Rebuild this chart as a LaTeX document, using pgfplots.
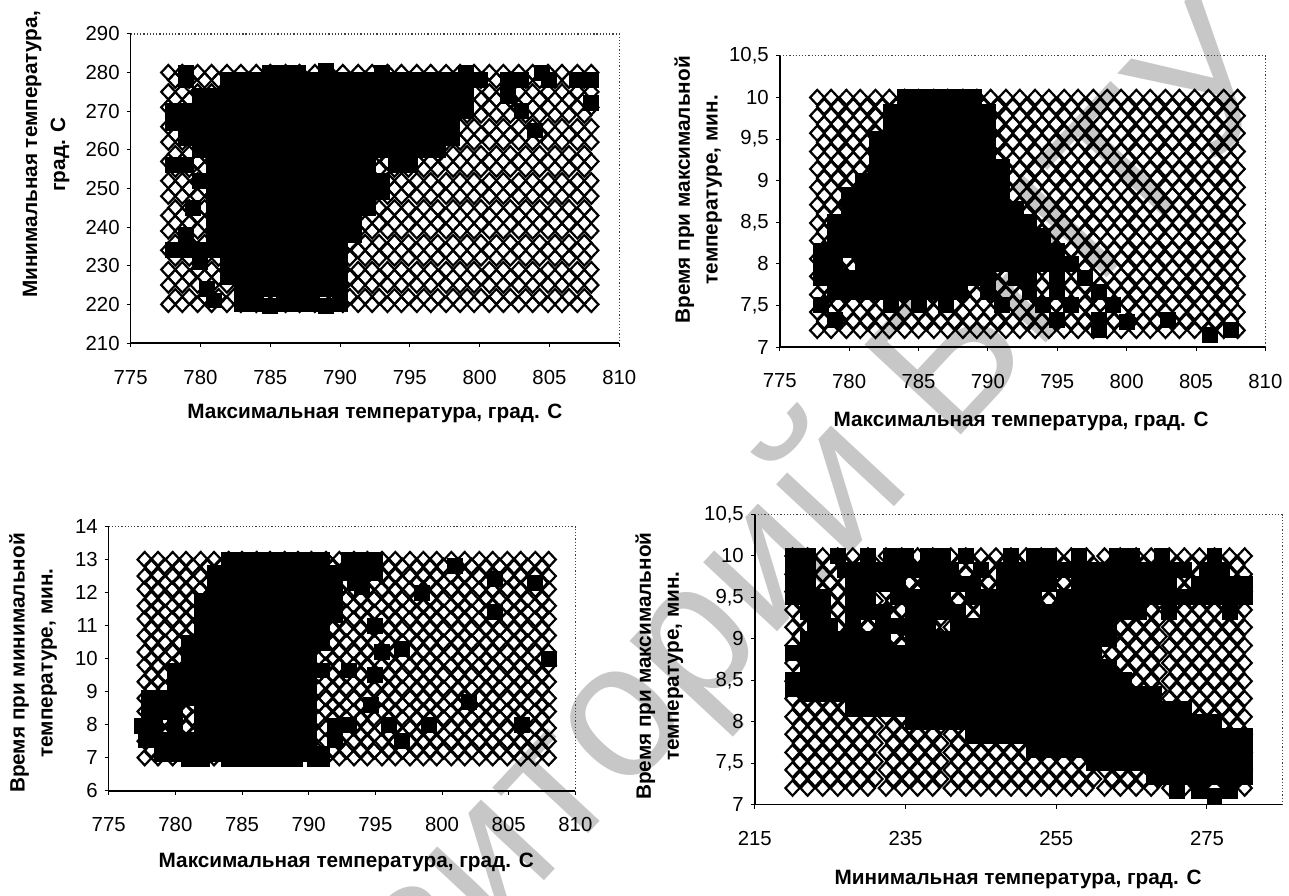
\documentclass[border=0pt]{standalone}
\usepackage{pgfplots}
\usepackage{pgfplotstable}
\usepackage{fontspec}
\setmainfont{Liberation Sans}
\pgfplotsset{compat=1.18}
\pgfplotsset{panel/.style={scale only axis,axis lines*=left,axis line style={-,black,line width=0.8pt},
 tick align=outside,major tick length=2pt,tick style={black,line width=0.5pt},
 tick label style={font=\fontsize{10.2}{12}\selectfont},
 /pgf/number format/.cd,use comma,assume math mode=true,1000 sep={},/pgfplots/.cd,
 xlabel style={font=\fontsize{10.4}{12}\selectfont\bfseries,anchor=center},
 ylabel style={font=\fontsize{10.4}{14}\selectfont\bfseries,align=center,anchor=center,rotate=0},
 xticklabel style={yshift=-8pt},
 clip=false},
 dia/.style={only marks,mark=diamond,mark size=3.8pt,mark options={xscale=1.25,draw=black,line width=1.1pt,fill=none}},
 sq/.style={only marks,mark=square*,mark size=3.75pt,mark options={draw=black,fill=black,line width=0pt}}}
\newcommand\frametop{\draw[densely dotted,black!75,line width=0.6pt] (rel axis cs:0,1)--(rel axis cs:1,1)--(rel axis cs:1,0);}
\pgfplotstableread{
tx tn ta ti tm
777.7 220 7.2 7 220
778.7 220 7.2 7 222
779.8 220 7.2 7 224
780.8 220 7.2 7 226
781.9 220 7.2 7 228
782.9 220 7.2 7 230
784 220 7.2 7 232.4
785 220 7.2 7 234.5
786.1 220 7.2 7 236.6
787.1 220 7.2 7 238.6
788.2 220 7.2 7 241
789.2 220 7.2 7 243
790.2 220 7.2 7 245
791.3 220 7.2 7 247
792.3 220 7.2 7 249
793.4 220 7.2 7 251
794.4 220 7.2 7 253
795.5 220 7.2 7 255
796.5 220 7.2 7 257
797.6 220 7.2 7 259
798.6 220 7.2 7 261.4
799.6 220 7.2 7 263.5
800.7 220 7.2 7 265.6
801.7 220 7.2 7 267.6
802.8 220 7.2 7 270
803.8 220 7.2 7 272
804.9 220 7.2 7 274
805.9 220 7.2 7 276
807 220 7.2 7 278
808 220 7.2 7 280
778.2 222 7.31 7.2 221
779.2 222 7.31 7.2 223
780.3 222 7.31 7.2 225
781.3 222 7.31 7.2 227
782.4 222 7.31 7.2 229
783.4 222 7.31 7.2 231
784.5 222 7.31 7.2 233.4
785.5 222 7.31 7.2 235.5
786.6 222 7.31 7.2 237.6
787.6 222 7.31 7.2 239.7
788.7 222 7.31 7.2 242
789.7 222 7.31 7.2 244
790.7 222 7.31 7.2 246
791.8 222 7.31 7.2 248
792.8 222 7.31 7.2 250
793.9 222 7.31 7.2 252
794.9 222 7.31 7.2 254
796 222 7.31 7.2 256
797 222 7.31 7.2 258
798.1 222 7.31 7.2 260
799.1 222 7.31 7.2 262.4
800.1 222 7.31 7.2 264.5
801.2 222 7.31 7.2 266.6
802.2 222 7.31 7.2 268.7
803.3 222 7.31 7.2 271
804.3 222 7.31 7.2 273
805.4 222 7.31 7.2 275
806.4 222 7.31 7.2 277
807.5 222 7.31 7.2 279
777.7 225 7.42 7.5 220
778.7 225 7.42 7.5 222
779.8 225 7.42 7.5 224
780.8 225 7.42 7.5 226
781.9 225 7.42 7.5 228
782.9 225 7.42 7.5 230
784 225 7.42 7.5 232.4
785 225 7.42 7.5 234.5
786.1 225 7.42 7.5 236.6
787.1 225 7.42 7.5 238.6
788.2 225 7.42 7.5 241
789.2 225 7.42 7.5 243
790.2 225 7.42 7.5 245
791.3 225 7.42 7.5 247
792.3 225 7.42 7.5 249
793.4 225 7.42 7.5 251
794.4 225 7.42 7.5 253
795.5 225 7.42 7.5 255
796.5 225 7.42 7.5 257
797.6 225 7.42 7.5 259
798.6 225 7.42 7.5 261.4
799.6 225 7.42 7.5 263.5
800.7 225 7.42 7.5 265.6
801.7 225 7.42 7.5 267.6
802.8 225 7.42 7.5 270
803.8 225 7.42 7.5 272
804.9 225 7.42 7.5 274
805.9 225 7.42 7.5 276
807 225 7.42 7.5 278
808 225 7.42 7.5 280
778.2 227 7.52 7.7 221
779.2 227 7.52 7.7 223
780.3 227 7.52 7.7 225
781.3 227 7.52 7.7 227
782.4 227 7.52 7.7 229
783.4 227 7.52 7.7 231
784.5 227 7.52 7.7 233.4
785.5 227 7.52 7.7 235.5
786.6 227 7.52 7.7 237.6
787.6 227 7.52 7.7 239.7
788.7 227 7.52 7.7 242
789.7 227 7.52 7.7 244
790.7 227 7.52 7.7 246
791.8 227 7.52 7.7 248
792.8 227 7.52 7.7 250
793.9 227 7.52 7.7 252
794.9 227 7.52 7.7 254
796 227 7.52 7.7 256
797 227 7.52 7.7 258
798.1 227 7.52 7.7 260
799.1 227 7.52 7.7 262.4
800.1 227 7.52 7.7 264.5
801.2 227 7.52 7.7 266.6
802.2 227 7.52 7.7 268.7
803.3 227 7.52 7.7 271
804.3 227 7.52 7.7 273
805.4 227 7.52 7.7 275
806.4 227 7.52 7.7 277
807.5 227 7.52 7.7 279
777.7 229 7.63 7.9 220
778.7 229 7.63 7.9 222
779.8 229 7.63 7.9 224
780.8 229 7.63 7.9 226
781.9 229 7.63 7.9 228
782.9 229 7.63 7.9 230
784 229 7.63 7.9 232.4
785 229 7.63 7.9 234.5
786.1 229 7.63 7.9 236.6
787.1 229 7.63 7.9 238.6
788.2 229 7.63 7.9 241
789.2 229 7.63 7.9 243
790.2 229 7.63 7.9 245
791.3 229 7.63 7.9 247
792.3 229 7.63 7.9 249
793.4 229 7.63 7.9 251
794.4 229 7.63 7.9 253
795.5 229 7.63 7.9 255
796.5 229 7.63 7.9 257
797.6 229 7.63 7.9 259
798.6 229 7.63 7.9 261.4
799.6 229 7.63 7.9 263.5
800.7 229 7.63 7.9 265.6
801.7 229 7.63 7.9 267.6
802.8 229 7.63 7.9 270
803.8 229 7.63 7.9 272
804.9 229 7.63 7.9 274
805.9 229 7.63 7.9 276
807 229 7.63 7.9 278
808 229 7.63 7.9 280
778.2 232 7.74 8.2 221
779.2 232 7.74 8.2 223
780.3 232 7.74 8.2 225
781.3 232 7.74 8.2 227
782.4 232 7.74 8.2 229
783.4 232 7.74 8.2 231
784.5 232 7.74 8.2 233.4
785.5 232 7.74 8.2 235.5
786.6 232 7.74 8.2 237.6
787.6 232 7.74 8.2 239.7
788.7 232 7.74 8.2 242
789.7 232 7.74 8.2 244
790.7 232 7.74 8.2 246
791.8 232 7.74 8.2 248
792.8 232 7.74 8.2 250
793.9 232 7.74 8.2 252
794.9 232 7.74 8.2 254
796 232 7.74 8.2 256
797 232 7.74 8.2 258
798.1 232 7.74 8.2 260
799.1 232 7.74 8.2 262.4
800.1 232 7.74 8.2 264.5
801.2 232 7.74 8.2 266.6
802.2 232 7.74 8.2 268.7
803.3 232 7.74 8.2 271
804.3 232 7.74 8.2 273
805.4 232 7.74 8.2 275
806.4 232 7.74 8.2 277
807.5 232 7.74 8.2 279
777.7 234 7.85 8.4 220
778.7 234 7.85 8.4 222
779.8 234 7.85 8.4 224
780.8 234 7.85 8.4 226
781.9 234 7.85 8.4 228
782.9 234 7.85 8.4 230
784 234 7.85 8.4 232.4
785 234 7.85 8.4 234.5
786.1 234 7.85 8.4 236.6
787.1 234 7.85 8.4 238.6
788.2 234 7.85 8.4 241
789.2 234 7.85 8.4 243
790.2 234 7.85 8.4 245
791.3 234 7.85 8.4 247
792.3 234 7.85 8.4 249
793.4 234 7.85 8.4 251
794.4 234 7.85 8.4 253
795.5 234 7.85 8.4 255
796.5 234 7.85 8.4 257
797.6 234 7.85 8.4 259
798.6 234 7.85 8.4 261.4
799.6 234 7.85 8.4 263.5
800.7 234 7.85 8.4 265.6
801.7 234 7.85 8.4 267.6
802.8 234 7.85 8.4 270
803.8 234 7.85 8.4 272
804.9 234 7.85 8.4 274
805.9 234 7.85 8.4 276
807 234 7.85 8.4 278
808 234 7.85 8.4 280
778.2 236 7.95 8.6 221
779.2 236 7.95 8.6 223
780.3 236 7.95 8.6 225
781.3 236 7.95 8.6 227
782.4 236 7.95 8.6 229
783.4 236 7.95 8.6 231
784.5 236 7.95 8.6 233.4
785.5 236 7.95 8.6 235.5
786.6 236 7.95 8.6 237.6
787.6 236 7.95 8.6 239.7
788.7 236 7.95 8.6 242
789.7 236 7.95 8.6 244
790.7 236 7.95 8.6 246
791.8 236 7.95 8.6 248
792.8 236 7.95 8.6 250
793.9 236 7.95 8.6 252
794.9 236 7.95 8.6 254
796 236 7.95 8.6 256
797 236 7.95 8.6 258
798.1 236 7.95 8.6 260
799.1 236 7.95 8.6 262.4
800.1 236 7.95 8.6 264.5
801.2 236 7.95 8.6 266.6
802.2 236 7.95 8.6 268.7
803.3 236 7.95 8.6 271
804.3 236 7.95 8.6 273
805.4 236 7.95 8.6 275
806.4 236 7.95 8.6 277
807.5 236 7.95 8.6 279
777.7 239 8.06 8.8 220
778.7 239 8.06 8.8 222
779.8 239 8.06 8.8 224
780.8 239 8.06 8.8 226
781.9 239 8.06 8.8 228
782.9 239 8.06 8.8 230
784 239 8.06 8.8 232.4
785 239 8.06 8.8 234.5
786.1 239 8.06 8.8 236.6
787.1 239 8.06 8.8 238.6
788.2 239 8.06 8.8 241
789.2 239 8.06 8.8 243
790.2 239 8.06 8.8 245
791.3 239 8.06 8.8 247
792.3 239 8.06 8.8 249
793.4 239 8.06 8.8 251
794.4 239 8.06 8.8 253
795.5 239 8.06 8.8 255
796.5 239 8.06 8.8 257
797.6 239 8.06 8.8 259
798.6 239 8.06 8.8 261.4
799.6 239 8.06 8.8 263.5
800.7 239 8.06 8.8 265.6
801.7 239 8.06 8.8 267.6
802.8 239 8.06 8.8 270
803.8 239 8.06 8.8 272
804.9 239 8.06 8.8 274
805.9 239 8.06 8.8 276
807 239 8.06 8.8 278
808 239 8.06 8.8 280
778.2 241 8.17 9.1 221
779.2 241 8.17 9.1 223
780.3 241 8.17 9.1 225
781.3 241 8.17 9.1 227
782.4 241 8.17 9.1 229
783.4 241 8.17 9.1 231
784.5 241 8.17 9.1 233.4
785.5 241 8.17 9.1 235.5
786.6 241 8.17 9.1 237.6
787.6 241 8.17 9.1 239.7
788.7 241 8.17 9.1 242
789.7 241 8.17 9.1 244
790.7 241 8.17 9.1 246
791.8 241 8.17 9.1 248
792.8 241 8.17 9.1 250
793.9 241 8.17 9.1 252
794.9 241 8.17 9.1 254
796 241 8.17 9.1 256
797 241 8.17 9.1 258
798.1 241 8.17 9.1 260
799.1 241 8.17 9.1 262.4
800.1 241 8.17 9.1 264.5
801.2 241 8.17 9.1 266.6
802.2 241 8.17 9.1 268.7
803.3 241 8.17 9.1 271
804.3 241 8.17 9.1 273
805.4 241 8.17 9.1 275
806.4 241 8.17 9.1 277
807.5 241 8.17 9.1 279
777.7 243 8.28 9.3 220
778.7 243 8.28 9.3 222
779.8 243 8.28 9.3 224
780.8 243 8.28 9.3 226
781.9 243 8.28 9.3 228
782.9 243 8.28 9.3 230
784 243 8.28 9.3 232.4
785 243 8.28 9.3 234.5
786.1 243 8.28 9.3 236.6
787.1 243 8.28 9.3 238.6
788.2 243 8.28 9.3 241
789.2 243 8.28 9.3 243
790.2 243 8.28 9.3 245
791.3 243 8.28 9.3 247
792.3 243 8.28 9.3 249
793.4 243 8.28 9.3 251
794.4 243 8.28 9.3 253
795.5 243 8.28 9.3 255
796.5 243 8.28 9.3 257
797.6 243 8.28 9.3 259
798.6 243 8.28 9.3 261.4
799.6 243 8.28 9.3 263.5
800.7 243 8.28 9.3 265.6
801.7 243 8.28 9.3 267.6
802.8 243 8.28 9.3 270
803.8 243 8.28 9.3 272
804.9 243 8.28 9.3 274
805.9 243 8.28 9.3 276
807 243 8.28 9.3 278
808 243 8.28 9.3 280
778.2 245 8.38 9.5 221
779.2 245 8.38 9.5 223
780.3 245 8.38 9.5 225
781.3 245 8.38 9.5 227
782.4 245 8.38 9.5 229
783.4 245 8.38 9.5 231
784.5 245 8.38 9.5 233.4
785.5 245 8.38 9.5 235.5
786.6 245 8.38 9.5 237.6
787.6 245 8.38 9.5 239.7
788.7 245 8.38 9.5 242
789.7 245 8.38 9.5 244
790.7 245 8.38 9.5 246
791.8 245 8.38 9.5 248
792.8 245 8.38 9.5 250
793.9 245 8.38 9.5 252
794.9 245 8.38 9.5 254
796 245 8.38 9.5 256
797 245 8.38 9.5 258
798.1 245 8.38 9.5 260
799.1 245 8.38 9.5 262.4
800.1 245 8.38 9.5 264.5
801.2 245 8.38 9.5 266.6
802.2 245 8.38 9.5 268.7
803.3 245 8.38 9.5 271
804.3 245 8.38 9.5 273
805.4 245 8.38 9.5 275
806.4 245 8.38 9.5 277
807.5 245 8.38 9.5 279
777.7 248 8.49 9.8 220
778.7 248 8.49 9.8 222
779.8 248 8.49 9.8 224
780.8 248 8.49 9.8 226
781.9 248 8.49 9.8 228
782.9 248 8.49 9.8 230
784 248 8.49 9.8 232.4
785 248 8.49 9.8 234.5
786.1 248 8.49 9.8 236.6
787.1 248 8.49 9.8 238.6
788.2 248 8.49 9.8 241
789.2 248 8.49 9.8 243
790.2 248 8.49 9.8 245
791.3 248 8.49 9.8 247
792.3 248 8.49 9.8 249
793.4 248 8.49 9.8 251
794.4 248 8.49 9.8 253
795.5 248 8.49 9.8 255
796.5 248 8.49 9.8 257
797.6 248 8.49 9.8 259
798.6 248 8.49 9.8 261.4
799.6 248 8.49 9.8 263.5
800.7 248 8.49 9.8 265.6
801.7 248 8.49 9.8 267.6
802.8 248 8.49 9.8 270
803.8 248 8.49 9.8 272
804.9 248 8.49 9.8 274
805.9 248 8.49 9.8 276
807 248 8.49 9.8 278
808 248 8.49 9.8 280
778.2 250 8.6 10 221
779.2 250 8.6 10 223
780.3 250 8.6 10 225
781.3 250 8.6 10 227
782.4 250 8.6 10 229
783.4 250 8.6 10 231
784.5 250 8.6 10 233.4
785.5 250 8.6 10 235.5
786.6 250 8.6 10 237.6
787.6 250 8.6 10 239.7
788.7 250 8.6 10 242
789.7 250 8.6 10 244
790.7 250 8.6 10 246
791.8 250 8.6 10 248
792.8 250 8.6 10 250
793.9 250 8.6 10 252
794.9 250 8.6 10 254
796 250 8.6 10 256
797 250 8.6 10 258
798.1 250 8.6 10 260
799.1 250 8.6 10 262.4
800.1 250 8.6 10 264.5
801.2 250 8.6 10 266.6
802.2 250 8.6 10 268.7
803.3 250 8.6 10 271
804.3 250 8.6 10 273
805.4 250 8.6 10 275
806.4 250 8.6 10 277
807.5 250 8.6 10 279
777.7 252 8.71 10.2 220
778.7 252 8.71 10.2 222
779.8 252 8.71 10.2 224
780.8 252 8.71 10.2 226
781.9 252 8.71 10.2 228
782.9 252 8.71 10.2 230
784 252 8.71 10.2 232.4
785 252 8.71 10.2 234.5
786.1 252 8.71 10.2 236.6
787.1 252 8.71 10.2 238.6
788.2 252 8.71 10.2 241
789.2 252 8.71 10.2 243
790.2 252 8.71 10.2 245
791.3 252 8.71 10.2 247
792.3 252 8.71 10.2 249
793.4 252 8.71 10.2 251
794.4 252 8.71 10.2 253
795.5 252 8.71 10.2 255
796.5 252 8.71 10.2 257
797.6 252 8.71 10.2 259
798.6 252 8.71 10.2 261.4
799.6 252 8.71 10.2 263.5
800.7 252 8.71 10.2 265.6
801.7 252 8.71 10.2 267.6
802.8 252 8.71 10.2 270
803.8 252 8.71 10.2 272
804.9 252 8.71 10.2 274
805.9 252 8.71 10.2 276
807 252 8.71 10.2 278
808 252 8.71 10.2 280
778.2 255 8.82 10.5 221
779.2 255 8.82 10.5 223
780.3 255 8.82 10.5 225
781.3 255 8.82 10.5 227
782.4 255 8.82 10.5 229
783.4 255 8.82 10.5 231
784.5 255 8.82 10.5 233.4
785.5 255 8.82 10.5 235.5
786.6 255 8.82 10.5 237.6
787.6 255 8.82 10.5 239.7
788.7 255 8.82 10.5 242
789.7 255 8.82 10.5 244
790.7 255 8.82 10.5 246
791.8 255 8.82 10.5 248
792.8 255 8.82 10.5 250
793.9 255 8.82 10.5 252
794.9 255 8.82 10.5 254
796 255 8.82 10.5 256
797 255 8.82 10.5 258
798.1 255 8.82 10.5 260
799.1 255 8.82 10.5 262.4
800.1 255 8.82 10.5 264.5
801.2 255 8.82 10.5 266.6
802.2 255 8.82 10.5 268.7
803.3 255 8.82 10.5 271
804.3 255 8.82 10.5 273
805.4 255 8.82 10.5 275
806.4 255 8.82 10.5 277
807.5 255 8.82 10.5 279
777.7 257 8.92 10.7 220
778.7 257 8.92 10.7 222
779.8 257 8.92 10.7 224
780.8 257 8.92 10.7 226
781.9 257 8.92 10.7 228
782.9 257 8.92 10.7 230
784 257 8.92 10.7 232.4
785 257 8.92 10.7 234.5
786.1 257 8.92 10.7 236.6
787.1 257 8.92 10.7 238.6
788.2 257 8.92 10.7 241
789.2 257 8.92 10.7 243
790.2 257 8.92 10.7 245
791.3 257 8.92 10.7 247
792.3 257 8.92 10.7 249
793.4 257 8.92 10.7 251
794.4 257 8.92 10.7 253
795.5 257 8.92 10.7 255
796.5 257 8.92 10.7 257
797.6 257 8.92 10.7 259
798.6 257 8.92 10.7 261.4
799.6 257 8.92 10.7 263.5
800.7 257 8.92 10.7 265.6
801.7 257 8.92 10.7 267.6
802.8 257 8.92 10.7 270
803.8 257 8.92 10.7 272
804.9 257 8.92 10.7 274
805.9 257 8.92 10.7 276
807 257 8.92 10.7 278
808 257 8.92 10.7 280
778.2 259 9.03 10.9 221
779.2 259 9.03 10.9 223
780.3 259 9.03 10.9 225
781.3 259 9.03 10.9 227
782.4 259 9.03 10.9 229
783.4 259 9.03 10.9 231
784.5 259 9.03 10.9 233.4
785.5 259 9.03 10.9 235.5
786.6 259 9.03 10.9 237.6
787.6 259 9.03 10.9 239.7
788.7 259 9.03 10.9 242
789.7 259 9.03 10.9 244
790.7 259 9.03 10.9 246
791.8 259 9.03 10.9 248
792.8 259 9.03 10.9 250
793.9 259 9.03 10.9 252
794.9 259 9.03 10.9 254
796 259 9.03 10.9 256
797 259 9.03 10.9 258
798.1 259 9.03 10.9 260
799.1 259 9.03 10.9 262.4
800.1 259 9.03 10.9 264.5
801.2 259 9.03 10.9 266.6
802.2 259 9.03 10.9 268.7
803.3 259 9.03 10.9 271
804.3 259 9.03 10.9 273
805.4 259 9.03 10.9 275
806.4 259 9.03 10.9 277
807.5 259 9.03 10.9 279
777.7 262 9.14 11.2 220
778.7 262 9.14 11.2 222
779.8 262 9.14 11.2 224
780.8 262 9.14 11.2 226
781.9 262 9.14 11.2 228
782.9 262 9.14 11.2 230
784 262 9.14 11.2 232.4
785 262 9.14 11.2 234.5
786.1 262 9.14 11.2 236.6
787.1 262 9.14 11.2 238.6
788.2 262 9.14 11.2 241
789.2 262 9.14 11.2 243
790.2 262 9.14 11.2 245
791.3 262 9.14 11.2 247
792.3 262 9.14 11.2 249
793.4 262 9.14 11.2 251
794.4 262 9.14 11.2 253
795.5 262 9.14 11.2 255
796.5 262 9.14 11.2 257
797.6 262 9.14 11.2 259
798.6 262 9.14 11.2 261.4
799.6 262 9.14 11.2 263.5
800.7 262 9.14 11.2 265.6
801.7 262 9.14 11.2 267.6
802.8 262 9.14 11.2 270
803.8 262 9.14 11.2 272
804.9 262 9.14 11.2 274
805.9 262 9.14 11.2 276
807 262 9.14 11.2 278
808 262 9.14 11.2 280
778.2 264 9.25 11.4 221
779.2 264 9.25 11.4 223
780.3 264 9.25 11.4 225
781.3 264 9.25 11.4 227
782.4 264 9.25 11.4 229
783.4 264 9.25 11.4 231
784.5 264 9.25 11.4 233.4
785.5 264 9.25 11.4 235.5
786.6 264 9.25 11.4 237.6
787.6 264 9.25 11.4 239.7
788.7 264 9.25 11.4 242
789.7 264 9.25 11.4 244
790.7 264 9.25 11.4 246
791.8 264 9.25 11.4 248
792.8 264 9.25 11.4 250
793.9 264 9.25 11.4 252
794.9 264 9.25 11.4 254
796 264 9.25 11.4 256
797 264 9.25 11.4 258
798.1 264 9.25 11.4 260
799.1 264 9.25 11.4 262.4
800.1 264 9.25 11.4 264.5
801.2 264 9.25 11.4 266.6
802.2 264 9.25 11.4 268.7
803.3 264 9.25 11.4 271
804.3 264 9.25 11.4 273
805.4 264 9.25 11.4 275
806.4 264 9.25 11.4 277
807.5 264 9.25 11.4 279
777.7 266 9.35 11.6 220
778.7 266 9.35 11.6 222
779.8 266 9.35 11.6 224
780.8 266 9.35 11.6 226
781.9 266 9.35 11.6 228
782.9 266 9.35 11.6 230
784 266 9.35 11.6 232.4
785 266 9.35 11.6 234.5
786.1 266 9.35 11.6 236.6
787.1 266 9.35 11.6 238.6
788.2 266 9.35 11.6 241
789.2 266 9.35 11.6 243
790.2 266 9.35 11.6 245
791.3 266 9.35 11.6 247
792.3 266 9.35 11.6 249
793.4 266 9.35 11.6 251
794.4 266 9.35 11.6 253
795.5 266 9.35 11.6 255
796.5 266 9.35 11.6 257
797.6 266 9.35 11.6 259
798.6 266 9.35 11.6 261.4
799.6 266 9.35 11.6 263.5
800.7 266 9.35 11.6 265.6
801.7 266 9.35 11.6 267.6
802.8 266 9.35 11.6 270
803.8 266 9.35 11.6 272
804.9 266 9.35 11.6 274
805.9 266 9.35 11.6 276
807 266 9.35 11.6 278
808 266 9.35 11.6 280
778.2 269 9.46 11.8 221
779.2 269 9.46 11.8 223
780.3 269 9.46 11.8 225
781.3 269 9.46 11.8 227
782.4 269 9.46 11.8 229
783.4 269 9.46 11.8 231
784.5 269 9.46 11.8 233.4
785.5 269 9.46 11.8 235.5
786.6 269 9.46 11.8 237.6
787.6 269 9.46 11.8 239.7
788.7 269 9.46 11.8 242
789.7 269 9.46 11.8 244
790.7 269 9.46 11.8 246
791.8 269 9.46 11.8 248
792.8 269 9.46 11.8 250
793.9 269 9.46 11.8 252
794.9 269 9.46 11.8 254
796 269 9.46 11.8 256
797 269 9.46 11.8 258
798.1 269 9.46 11.8 260
799.1 269 9.46 11.8 262.4
800.1 269 9.46 11.8 264.5
801.2 269 9.46 11.8 266.6
802.2 269 9.46 11.8 268.7
803.3 269 9.46 11.8 271
804.3 269 9.46 11.8 273
805.4 269 9.46 11.8 275
806.4 269 9.46 11.8 277
807.5 269 9.46 11.8 279
777.7 271 9.57 12.1 220
778.7 271 9.57 12.1 222
779.8 271 9.57 12.1 224
780.8 271 9.57 12.1 226
781.9 271 9.57 12.1 228
782.9 271 9.57 12.1 230
784 271 9.57 12.1 232.4
785 271 9.57 12.1 234.5
786.1 271 9.57 12.1 236.6
787.1 271 9.57 12.1 238.6
788.2 271 9.57 12.1 241
789.2 271 9.57 12.1 243
790.2 271 9.57 12.1 245
791.3 271 9.57 12.1 247
792.3 271 9.57 12.1 249
793.4 271 9.57 12.1 251
794.4 271 9.57 12.1 253
795.5 271 9.57 12.1 255
796.5 271 9.57 12.1 257
797.6 271 9.57 12.1 259
798.6 271 9.57 12.1 261.4
799.6 271 9.57 12.1 263.5
800.7 271 9.57 12.1 265.6
801.7 271 9.57 12.1 267.6
802.8 271 9.57 12.1 270
803.8 271 9.57 12.1 272
804.9 271 9.57 12.1 274
805.9 271 9.57 12.1 276
807 271 9.57 12.1 278
808 271 9.57 12.1 280
778.2 273 9.68 12.3 221
779.2 273 9.68 12.3 223
780.3 273 9.68 12.3 225
781.3 273 9.68 12.3 227
782.4 273 9.68 12.3 229
783.4 273 9.68 12.3 231
784.5 273 9.68 12.3 233.4
785.5 273 9.68 12.3 235.5
786.6 273 9.68 12.3 237.6
787.6 273 9.68 12.3 239.7
788.7 273 9.68 12.3 242
789.7 273 9.68 12.3 244
790.7 273 9.68 12.3 246
791.8 273 9.68 12.3 248
792.8 273 9.68 12.3 250
793.9 273 9.68 12.3 252
794.9 273 9.68 12.3 254
796 273 9.68 12.3 256
797 273 9.68 12.3 258
798.1 273 9.68 12.3 260
799.1 273 9.68 12.3 262.4
800.1 273 9.68 12.3 264.5
801.2 273 9.68 12.3 266.6
802.2 273 9.68 12.3 268.7
803.3 273 9.68 12.3 271
804.3 273 9.68 12.3 273
805.4 273 9.68 12.3 275
806.4 273 9.68 12.3 277
807.5 273 9.68 12.3 279
777.7 275 9.78 12.5 220
778.7 275 9.78 12.5 222
779.8 275 9.78 12.5 224
780.8 275 9.78 12.5 226
781.9 275 9.78 12.5 228
782.9 275 9.78 12.5 230
784 275 9.78 12.5 232.4
785 275 9.78 12.5 234.5
786.1 275 9.78 12.5 236.6
787.1 275 9.78 12.5 238.6
788.2 275 9.78 12.5 241
789.2 275 9.78 12.5 243
790.2 275 9.78 12.5 245
791.3 275 9.78 12.5 247
792.3 275 9.78 12.5 249
793.4 275 9.78 12.5 251
794.4 275 9.78 12.5 253
795.5 275 9.78 12.5 255
796.5 275 9.78 12.5 257
797.6 275 9.78 12.5 259
798.6 275 9.78 12.5 261.4
799.6 275 9.78 12.5 263.5
800.7 275 9.78 12.5 265.6
801.7 275 9.78 12.5 267.6
802.8 275 9.78 12.5 270
803.8 275 9.78 12.5 272
804.9 275 9.78 12.5 274
805.9 275 9.78 12.5 276
807 275 9.78 12.5 278
808 275 9.78 12.5 280
778.2 278 9.89 12.8 221
779.2 278 9.89 12.8 223
780.3 278 9.89 12.8 225
781.3 278 9.89 12.8 227
782.4 278 9.89 12.8 229
783.4 278 9.89 12.8 231
784.5 278 9.89 12.8 233.4
785.5 278 9.89 12.8 235.5
786.6 278 9.89 12.8 237.6
787.6 278 9.89 12.8 239.7
788.7 278 9.89 12.8 242
789.7 278 9.89 12.8 244
790.7 278 9.89 12.8 246
791.8 278 9.89 12.8 248
792.8 278 9.89 12.8 250
793.9 278 9.89 12.8 252
794.9 278 9.89 12.8 254
796 278 9.89 12.8 256
797 278 9.89 12.8 258
798.1 278 9.89 12.8 260
799.1 278 9.89 12.8 262.4
800.1 278 9.89 12.8 264.5
801.2 278 9.89 12.8 266.6
802.2 278 9.89 12.8 268.7
803.3 278 9.89 12.8 271
804.3 278 9.89 12.8 273
805.4 278 9.89 12.8 275
806.4 278 9.89 12.8 277
807.5 278 9.89 12.8 279
777.7 280 10 13 220
778.7 280 10 13 222
779.8 280 10 13 224
780.8 280 10 13 226
781.9 280 10 13 228
782.9 280 10 13 230
784 280 10 13 232.4
785 280 10 13 234.5
786.1 280 10 13 236.6
787.1 280 10 13 238.6
788.2 280 10 13 241
789.2 280 10 13 243
790.2 280 10 13 245
791.3 280 10 13 247
792.3 280 10 13 249
793.4 280 10 13 251
794.4 280 10 13 253
795.5 280 10 13 255
796.5 280 10 13 257
797.6 280 10 13 259
798.6 280 10 13 261.4
799.6 280 10 13 263.5
800.7 280 10 13 265.6
801.7 280 10 13 267.6
802.8 280 10 13 270
803.8 280 10 13 272
804.9 280 10 13 274
805.9 280 10 13 276
807 280 10 13 278
808 280 10 13 280
}\alltab
\pgfplotstableread{
783 220
784 220
785 219.5
786 220
787 220
788 220
789 219.5
790 220
781 221
780.5 224
783 224
784 224
785 224
786 224
787 224
788 224
789 224
790 224
782 227
783 227
784 227
785 227
786 227
787 227
788 227
789 227
790 227
780 231
782 231
783 231
784 231
785 231
786 231
787 231
788 231
789 231
790 231
778 234
779 234
780 234
781 234
782 234
783 234
784 234
785 234
786 234
787 234
788 234
789 234
790 234
779 238
781 238
782 238
783 238
784 238
785 238
786 238
787 238
788 238
789 238
790 238
791 238
781 242
782 242
783 242
784 242
785 242
786 242
787 242
788 242
789 242
790 242
791 242
779.5 245
781 245
782 245
783 245
784 245
785 245
786 245
787 245
788 245
789 245
790 245
791 245
792 245
781 249
782 249
783 249
784 249
785 249
786 249
787 249
788 249
789 249
790 249
791 249
792 249
793 249
780 252
781 252
782 252
783 252
784 252
785 252
786 252
787 252
788 252
789 252
790 252
791 252
792 252
793 252
778 256
779 256
781 256
782 256
783 256
784 256
785 256
786 256
787 256
788 256
789 256
790 256
791 256
792 256
794 256
795 256
780 260
781 260
782 260
783 260
784 260
785 260
786 260
787 260
788 260
789 260
790 260
791 260
792 260
793 260
794 260
795 260
796 260
797 260
779 263
780 263
781 263
782 263
783 263
784 263
785 263
786 263
787 263
788 263
789 263
790 263
791 263
792 263
793 263
794 263
795 263
796 263
797 263
798 263
778 267
779 267
780 267
781 267
782 267
783 267
784 267
785 267
786 267
787 267
788 267
789 267
790 267
791 267
792 267
793 267
794 267
795 267
796 267
797 267
798 267
778 270
779 270
780 270
781 270
782 270
783 270
784 270
785 270
786 270
787 270
788 270
789 270
790 270
791 270
792 270
793 270
794 270
795 270
796 270
797 270
798 270
799 270
780 274
781 274
782 274
783 274
784 274
785 274
786 274
787 274
788 274
789 274
790 274
791 274
792 274
793 274
794 274
795 274
796 274
797 274
798 274
799 274
779 278
782 278
783 278
784 278
785 278
786 278
787 278
788 278
789 278
790 278
791 278
792 278
793 278
794 278
795 278
796 278
797 278
798 278
799 278
800 278
802 278
803 278
805 278
807 278
808 278
779 280
785 280
786 280
787 280
789 280.5
793 280
799 280
804.5 280
807 278
808 272
804 265
803 270
802 274
}\sqA
\pgfplotstableread{
784 10
785 10
786 10
787 10
788 10
789 10
783 9.83
784 9.83
785 9.83
786 9.83
787 9.83
788 9.83
789 9.83
790 9.83
783 9.66
784 9.66
785 9.66
786 9.66
787 9.66
788 9.66
789 9.66
790 9.66
782 9.5
783 9.5
784 9.5
785 9.5
786 9.5
787 9.5
788 9.5
789 9.5
790 9.5
782 9.33
783 9.33
784 9.33
785 9.33
786 9.33
787 9.33
788 9.33
789 9.33
790 9.33
782 9.16
783 9.16
784 9.16
785 9.16
786 9.16
787 9.16
788 9.16
789 9.16
790 9.16
791 9.16
781 9
782 9
783 9
784 9
785 9
786 9
787 9
788 9
789 9
790 9
791 9
780 8.83
781 8.83
782 8.83
783 8.83
784 8.83
785 8.83
786 8.83
787 8.83
788 8.83
789 8.83
790 8.83
791 8.83
780 8.66
781 8.66
782 8.66
783 8.66
784 8.66
785 8.66
786 8.66
787 8.66
788 8.66
789 8.66
790 8.66
791 8.66
792 8.66
779 8.5
780 8.5
781 8.5
782 8.5
783 8.5
784 8.5
785 8.5
786 8.5
787 8.5
788 8.5
789 8.5
790 8.5
791 8.5
792 8.5
793 8.5
779 8.33
780 8.33
781 8.33
782 8.33
783 8.33
784 8.33
785 8.33
786 8.33
787 8.33
788 8.33
789 8.33
790 8.33
791 8.33
792 8.33
793 8.33
794 8.33
778 8.16
779 8.16
780 8.16
781 8.16
782 8.16
783 8.16
784 8.16
785 8.16
786 8.16
787 8.16
788 8.16
789 8.16
790 8.16
791 8.16
792 8.16
793 8.16
794 8.16
795 8.16
778 8
779 8
781 8
782 8
783 8
784 8
785 8
786 8
787 8
788 8
789 8
790 8
791 8
792 8
793 8
794 8
795 8
796 8
778 7.83
779 7.83
780 7.83
781 7.83
782 7.83
783 7.83
784 7.83
785 7.83
786 7.83
787 7.83
788 7.83
789 7.83
790 7.83
792 7.83
793 7.83
795 7.83
797 7.83
779 7.66
780 7.66
781 7.66
782 7.66
783 7.66
784 7.66
785 7.66
786 7.66
787 7.66
788 7.66
790 7.66
793 7.66
795 7.66
798 7.66
778 7.5
783 7.5
785 7.5
787 7.5
791 7.5
794 7.5
796 7.5
799 7.5
779 7.33
795 7.33
798 7.33
803 7.33
798 7.2
800 7.3
806 7.15
807.5 7.2
}\sqB
\pgfplotstableread{
784 13
785 13
786 13
787 13
788 13
789 13
790 13
791 13
793 13
794 13
795 13
783 12.58
784 12.58
785 12.58
786 12.58
787 12.58
788 12.58
789 12.58
790 12.58
791 12.58
792 12.58
793 12.58
794 12.58
795 12.58
783 12.16
784 12.16
785 12.16
786 12.16
787 12.16
788 12.16
789 12.16
790 12.16
791 12.16
792 12.16
794 12.16
782 11.74
783 11.74
784 11.74
785 11.74
786 11.74
787 11.74
788 11.74
789 11.74
790 11.74
791 11.74
792 11.74
782 11.32
783 11.32
784 11.32
785 11.32
786 11.32
787 11.32
788 11.32
789 11.32
790 11.32
791 11.32
792 11.32
782 10.9
783 10.9
784 10.9
785 10.9
786 10.9
787 10.9
788 10.9
789 10.9
790 10.9
791 10.9
781 10.48
782 10.48
783 10.48
784 10.48
785 10.48
786 10.48
787 10.48
788 10.48
789 10.48
790 10.48
791 10.48
781 10.06
782 10.06
783 10.06
784 10.06
785 10.06
786 10.06
787 10.06
788 10.06
789 10.06
790 10.06
780 9.64
781 9.64
782 9.64
783 9.64
784 9.64
785 9.64
786 9.64
787 9.64
788 9.64
789 9.64
790 9.64
791 9.64
793 9.64
780 9.22
781 9.22
782 9.22
783 9.22
784 9.22
785 9.22
786 9.22
787 9.22
788 9.22
789 9.22
790 9.22
778 8.8
779 8.8
780 8.8
781 8.8
782 8.8
783 8.8
784 8.8
785 8.8
786 8.8
787 8.8
788 8.8
789 8.8
790 8.8
778 8.38
779 8.38
780 8.38
782 8.38
783 8.38
784 8.38
785 8.38
786 8.38
787 8.38
788 8.38
789 8.38
790 8.38
777.5 7.96
778.5 7.96
780 7.96
782 7.96
783 7.96
784 7.96
785 7.96
786 7.96
787 7.96
788 7.96
789 7.96
790 7.96
792 7.96
777.8 7.54
779 7.54
780 7.54
781 7.54
782 7.54
783 7.54
784 7.54
785 7.54
786 7.54
787 7.54
788 7.54
789 7.54
790 7.54
792 7.54
779 7.12
780 7.12
781 7.12
782 7.12
783 7.12
784 7.12
785 7.12
786 7.12
787 7.12
788 7.12
789 7.12
790 7.12
791 7.12
781 6.95
782 6.95
784 6.95
785 6.95
786 6.95
787 6.95
788 6.95
789 6.95
790.5 6.95
791 6.95
793.5 12.3
795 11
795.5 10.2
794.7 8.6
796 8
797 7.5
798.5 12
799 8
801 12.8
804 12.4
807 12.3
804 11.4
808 10
802 8.7
806 8
797 10.3
795 9.5
793 8
}\sqC
\pgfplotstableread{
220 10
222 10
226 10
230 10
233 10
235 10
238 10
240 10
243 10
249 10
252 10
254 10
258 10
263 10
265 10
269 10
276 10
220 9.83
222 9.83
227 9.83
229 9.83
231 9.83
233 9.83
235 9.83
237 9.83
239 9.83
241 9.83
245 9.83
248 9.83
250 9.83
252 9.83
254 9.83
256 9.83
258 9.83
260 9.83
262 9.83
264 9.83
266 9.83
268 9.83
270 9.83
272 9.83
275 9.83
277 9.83
220 9.66
222 9.66
228 9.66
230 9.66
232 9.66
234 9.66
238 9.66
240 9.66
242 9.66
244 9.66
248 9.66
250 9.66
252 9.66
254 9.66
258 9.66
260 9.66
262 9.66
264 9.66
266 9.66
268 9.66
270 9.66
274 9.66
276 9.66
278 9.66
280 9.66
220 9.5
222 9.5
224 9.5
228 9.5
230 9.5
234 9.5
236 9.5
238 9.5
240 9.5
244 9.5
246 9.5
248 9.5
250 9.5
252 9.5
256 9.5
258 9.5
260 9.5
262 9.5
264 9.5
266 9.5
268 9.5
270 9.5
272 9.5
274 9.5
276 9.5
278 9.5
280 9.5
222 9.33
224 9.33
228 9.33
230 9.33
232 9.33
236 9.33
238 9.33
240 9.33
242 9.33
246 9.33
248 9.33
250 9.33
252 9.33
254 9.33
256 9.33
258 9.33
260 9.33
262 9.33
264 9.33
266 9.33
270 9.33
278 9.33
223 9.16
225 9.16
228 9.16
232 9.16
234 9.16
236 9.16
238 9.16
242 9.16
244 9.16
246 9.16
248 9.16
250 9.16
252 9.16
254 9.16
256 9.16
258 9.16
260 9.16
262 9.16
222 9
224 9
226 9
228 9
230 9
232 9
236 9
238 9
240 9
242 9
244 9
246 9
248 9
250 9
252 9
254 9
256 9
258 9
260 9
262 9
220 8.83
222 8.83
224 8.83
226 8.83
228 8.83
230 8.83
232 8.83
234 8.83
236 8.83
238 8.83
240 8.83
242 8.83
244 8.83
246 8.83
248 8.83
250 8.83
252 8.83
254 8.83
256 8.83
258 8.83
260 8.83
222 8.66
224 8.66
226 8.66
228 8.66
230 8.66
232 8.66
234 8.66
236 8.66
238 8.66
240 8.66
242 8.66
244 8.66
246 8.66
248 8.66
250 8.66
252 8.66
254 8.66
256 8.66
258 8.66
260 8.66
262 8.66
220 8.5
222 8.5
224 8.5
226 8.5
228 8.5
230 8.5
232 8.5
234 8.5
236 8.5
238 8.5
240 8.5
242 8.5
244 8.5
246 8.5
248 8.5
250 8.5
252 8.5
254 8.5
256 8.5
258 8.5
260 8.5
262 8.5
264 8.5
220 8.4
222 8.33
224 8.33
226 8.33
228 8.33
230 8.33
232 8.33
234 8.33
236 8.33
238 8.33
240 8.33
242 8.33
244 8.33
246 8.33
248 8.33
250 8.33
252 8.33
254 8.33
256 8.33
258 8.33
260 8.33
262 8.33
264 8.33
266 8.33
268 8.33
228 8.16
230 8.16
232 8.16
234 8.16
236 8.16
238 8.16
240 8.16
242 8.16
244 8.16
246 8.16
248 8.16
250 8.16
252 8.16
254 8.16
256 8.16
258 8.16
260 8.16
262 8.16
264 8.16
266 8.16
268 8.16
270 8.16
272 8.16
236 8
238 8
240 8
242 8
244 8
246 8
248 8
250 8
252 8
254 8
256 8
258 8
260 8
262 8
264 8
266 8
268 8
270 8
272 8
274 8
276 8
244 7.83
246 7.83
248 7.83
250 7.83
252 7.83
254 7.83
256 7.83
258 7.83
260 7.83
262 7.83
264 7.83
266 7.83
268 7.83
270 7.83
272 7.83
274 7.83
276 7.83
278 7.83
280 7.83
252 7.66
254 7.66
256 7.66
258 7.66
260 7.66
262 7.66
264 7.66
266 7.66
268 7.66
270 7.66
272 7.66
274 7.66
276 7.66
278 7.66
280 7.66
260 7.5
262 7.5
264 7.5
266 7.5
268 7.5
270 7.5
272 7.5
274 7.5
276 7.5
278 7.5
280 7.5
268 7.33
270 7.33
272 7.33
274 7.33
276 7.33
278 7.33
280 7.33
271 7.16
274 7.16
276 7.1
278 7.16
}\sqD
\begin{document}
\begin{tikzpicture}
\path (0,0) rectangle (644.5pt,-446pt);
\node[overlay,rotate=47,text=black!22,font=\fontsize{96}{100}\selectfont] at (339.5pt,-333pt) {Репозиторий БНТУ};
\begin{axis}[panel,at={(65.5pt,-172pt)},anchor=south west,width=245pt,height=155pt,
 xmin=775,xmax=810,ymin=210,ymax=290,xtick={775,780,...,810},ytick={210,220,...,290},
 xlabel={Максимальная температура, град. С},ylabel={Минимальная температура,\\град. С},
 xlabel style={at={(axis description cs:0.5,-0.229)}},ylabel style={at={(axis description cs:-0.173,0.61)}}]
\addplot[dia] table[x=tx,y=tn] {\alltab};
\addplot[sq] table[x index=0,y index=1] {\sqA};
\frametop
\end{axis}
\begin{axis}[panel,at={(391pt,-174pt)},anchor=south west,width=243.5pt,height=146pt,
 xmin=775,xmax=810,ymin=7,ymax=10.5,xtick={775,780,...,810},ytick={7,7.5,...,10.5},
 xlabel={Максимальная температура, град. С},ylabel={Время при максимальной\\температуре, мин.},
 xlabel style={at={(axis description cs:0.497,-0.257)}},ylabel style={at={(axis description cs:-0.168,0.54)}}]
\addplot[dia] table[x=tx,y=ta] {\alltab};
\addplot[sq] table[x index=0,y index=1] {\sqB};
\frametop
\end{axis}
\begin{axis}[panel,at={(54.5pt,-396.5pt)},anchor=south west,width=234pt,height=132.5pt,
 xmin=775,xmax=810,ymin=6,ymax=14,xtick={775,780,...,810},ytick={6,7,...,14},
 xlabel={Максимальная температура, град. С},ylabel={Время при минимальной\\температуре, мин.},
 xlabel style={at={(axis description cs:0.509,-0.272)}},ylabel style={at={(axis description cs:-0.162,0.483)}}]
\addplot[dia] table[x=tx,y=ti] {\alltab};
\addplot[sq] table[x index=0,y index=1] {\sqC};
\frametop
\end{axis}
\begin{axis}[panel,at={(378.5pt,-403.5pt)},anchor=south west,width=264.5pt,height=145.5pt,
 xmin=215,xmax=285,ymin=7,ymax=10.5,xtick={215,235,255,275},ytick={7,7.5,...,10.5},
 xlabel={Минимальная температура, град. С},ylabel={Время при максимальной\\температуре, мин.},
 xlabel style={at={(axis description cs:0.499,-0.258)}},ylabel style={at={(axis description cs:-0.181,0.478)}}]
\addplot[dia] table[x=tm,y=ta] {\alltab};
\addplot[sq] table[x index=0,y index=1] {\sqD};
\frametop
\end{axis}
\end{tikzpicture}
\end{document}
